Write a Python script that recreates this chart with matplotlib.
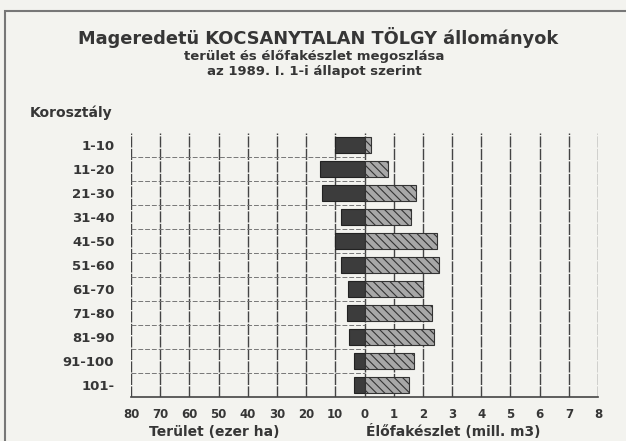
import numpy as np
import matplotlib.pyplot as plt
from matplotlib.patches import Rectangle
import matplotlib as mpl

mpl.rcParams['hatch.linewidth'] = 0.8
plt.rcParams['font.family'] = ['DejaVu Sans']

# age classes (top to bottom)
ageClasses = ['1-10', '11-20', '21-30', '31-40', '41-50', '51-60',
              '61-70', '71-80', '81-90', '91-100', '101-']
# area, thousand ha (left side)
areaValues = [10.2, 15.4, 14.4, 7.9, 10.0, 7.9, 5.6, 6.0, 5.4, 3.7, 3.7]
# growing stock, mill. m3 (right side)
stockValues = [0.21, 0.82, 1.76, 1.59, 2.48, 2.54, 1.99, 2.31, 2.37, 1.68, 1.53]

leftTicks = [80, 70, 60, 50, 40, 30, 20, 10, 0]
rightTicks = [1, 2, 3, 4, 5, 6, 7, 8]

paper = '#f3f3ef'
ink = '#363636'

fig = plt.figure(figsize=(6.26, 4.41), dpi=100, facecolor=paper)
ax = fig.add_axes([131/626, 1-397/441, (598-131)/626, (397-133)/441])
ax.set_facecolor(paper)

ypos = np.arange(len(ageClasses))
# left side plotted on same scale: 10 ha -> 1 unit
ax.barh(ypos, -np.array(areaValues)/10, height=0.7, color='#3c3c3c',
        edgecolor='#222222', linewidth=0.8, zorder=3)
ax.barh(ypos, stockValues, height=0.7, color='#a8a8a8', edgecolor='#333333',
        hatch='\\\\\\\\', linewidth=0.8, zorder=3)

ax.set_xlim(-8, 8)
ax.set_ylim(len(ageClasses)-0.5, -0.5)

# vertical grid lines
for x in range(-8, 9):
    ax.axvline(x, color='#444444', linewidth=1.0, linestyle=(0, (8, 1)), zorder=1)
# horizontal dashed row separators, left side only
for y in ypos[:-1]:
    ax.plot([-8, 0], [y+0.5, y+0.5], color='#777777', linewidth=0.7,
            linestyle=(0, (5, 2)), zorder=1)

for s in ['top', 'right', 'left']:
    ax.spines[s].set_visible(False)
ax.spines['bottom'].set_color('#444444')
ax.spines['bottom'].set_linewidth(1.2)

ax.set_xticks(list(range(-8, 9)))
ax.set_xticklabels([str(v) for v in leftTicks] + [str(v) for v in rightTicks],
                   fontsize=8.5, fontweight='bold', color=ink)
ax.tick_params(axis='x', length=0, pad=8)
ax.set_yticks(ypos)
ax.set_yticklabels(ageClasses, fontsize=9.5, fontweight='bold', color=ink)
ax.tick_params(axis='y', length=0, pad=12)

fig.text(214/626, 1-432/441, 'Terület (ezer ha)', ha='center', va='center',
         fontsize=10, fontweight='bold', color=ink)
fig.text(453/626, 1-432/441, 'Élőfakészlet (mill. m3)', ha='center', va='center',
         fontsize=10, fontweight='bold', color=ink)

fig.text(318/626, 1-37/441, 'Mageredetü KOCSANYTALAN TÖLGY állományok',
         ha='center', va='center', fontsize=12.8, fontweight='bold', color=ink)
fig.text(314/626, 1-56/441, 'terület és élőfakészlet megoszlása',
         ha='center', va='center', fontsize=9.5, fontweight='bold', color=ink)
fig.text(314/626, 1-71/441, 'az 1989. I. 1-i állapot szerint',
         ha='center', va='center', fontsize=9.5, fontweight='bold', color=ink)
fig.text(30/626, 1-113/441, 'Korosztály', ha='left', va='center',
         fontsize=10, fontweight='bold', color=ink)

# outer frame of the scanned page
fig.patches.append(Rectangle((5/626, -0.05), 1.1, 1.05-11/441,
                             transform=fig.transFigure, fill=False,
                             edgecolor='#777777', linewidth=1.5))

fig.savefig('out.png', dpi=100, facecolor=paper)
